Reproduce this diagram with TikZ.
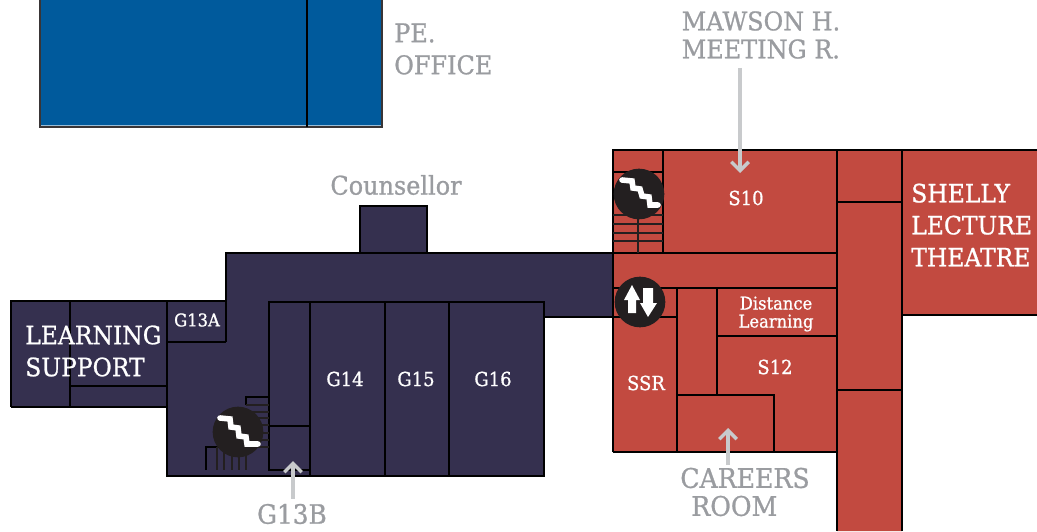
\documentclass[tikz,border=0pt]{standalone}
\usepackage{fontspec}
\usetikzlibrary{arrows.meta}
\setmainfont[FakeStretch=0.93,FakeBold=0.9]{DejaVu Serif}
\definecolor{navy}{HTML}{35304F}
\definecolor{brick}{HTML}{C24A40}
\definecolor{blue}{HTML}{005A9C}
\definecolor{ink}{HTML}{231F20}
\definecolor{greytext}{HTML}{9A9CA0}
\definecolor{arrowgrey}{HTML}{C8CACC}
\tikzset{
  wall/.style={draw=black,line width=1.5pt,line join=miter},
  thin wall/.style={draw=ink,line width=1.2pt},
  faint/.style={draw=ink,line width=1.1pt},
  grey label/.style={text=greytext,align=left,inner sep=0pt,font=\fontsize{19.3}{21}\selectfont},
  white label/.style={text=white,align=left,inner sep=0pt,font=\fontsize{18.9}{24}\selectfont},
  room label/.style={text=white,align=center,inner sep=0pt,font=\fontsize{14.5}{13.5}\selectfont},
  small label/.style={text=white,align=center,inner sep=0pt,font=\fontsize{13.2}{13.5}\selectfont},
  pointer/.style={draw=arrowgrey,line width=2.6pt,-{Straight Barb[length=6.5pt,width=13pt,line width=2.6pt]}},
  disc/.style={circle,fill=ink,minimum size=38pt,inner sep=0pt},
  stair/.style={draw=white,line width=4.2pt,line cap=round,line join=miter},
}
\begin{document}
\begin{tikzpicture}[x=0.75pt,y=-0.75pt]
\useasboundingbox (0,0) rectangle (1037,531);
% blue block
\fill[blue] (40,0) rectangle (382,127);
\draw[draw=blue!40,line width=0.6pt] (41,125.5) -- (381,125.5);
\draw[line width=1.5pt,draw=ink!90] (40,0) -- (40,127) -- (382,127) -- (382,0);
\draw[wall] (307,0) -- (307,127);
% navy block
\fill[navy] (11,301) -- (226,301) -- (226,253) -- (360,253) -- (360,206) -- (427,206) -- (427,253) -- (613,253) -- (613,317) -- (544,317) -- (544,476) -- (167,476) -- (167,407) -- (11,407) -- cycle;
\draw[wall] (11,407) -- (11,301) -- (226,301);
\draw[wall] (226,342) -- (226,253) -- (360,253) -- (360,206) -- (427,206) -- (427,253) -- (613,253);
\draw[wall] (360,253) -- (427,253);
\draw[wall] (544,317) -- (613,317);
\draw[wall] (167,301) -- (167,476) -- (544,476) -- (544,302) -- (269,302) -- (269,470) -- (310,470);
\draw[wall] (70,301) -- (70,407);
\draw[wall] (70,386) -- (167,386);
\draw[wall] (167,342) -- (226,342);
\draw[wall] (11,407) -- (167,407);
\draw[wall] (310,302) -- (310,476);
\draw[wall] (385,302) -- (385,476);
\draw[wall] (449,302) -- (449,476);
\draw[wall] (269,426) -- (310,426);
% navy stairs
\draw[wall] (246,405) -- (246,397) -- (269,397);
\foreach \yy in {405,412,418,425,433,440,447}{\draw[faint] (246,\yy) -- (269,\yy);}
\draw[wall] (206,470) -- (206,447) -- (228,447);
\foreach \xx in {217,224,232,239,246}{\draw[faint] (\xx,447) -- (\xx,470);}
% brick block
\fill[brick] (613,150) -- (1037,150) -- (1037,315) -- (902,315) -- (902,531) -- (837,531) -- (837,452) -- (613,452) -- cycle;
\draw[wall] (613,452) -- (613,150) -- (1037,150);
\draw[wall] (613,452) -- (837,452);
\draw[wall] (837,150) -- (837,531);
\draw[wall] (902,150) -- (902,531);
\draw[wall] (837,202) -- (902,202);
\draw[wall] (902,315) -- (1037,315);
\draw[wall] (837,390) -- (902,390);
\draw[wall] (663,150) -- (663,253);
\draw[wall] (613,253) -- (837,253);
\draw[wall] (613,288) -- (837,288);
\draw[wall] (613,317) -- (677,317);
\draw[wall] (677,288) -- (677,452);
\draw[wall] (717,288) -- (717,395);
\draw[wall] (717,336) -- (837,336);
\draw[wall] (677,395) -- (774,395) -- (774,452);
% brick stairs
\draw[wall] (613,172) -- (663,172);
\foreach \yy in {215,224,233,241}{\draw[thin wall] (613,\yy) -- (663,\yy);}
\draw[thin wall] (638,213) -- (638,253);
% discs
\node[disc] (stairA) at (639,194) {};
\draw[stair] (622,180) -- (632,181) -- (633,188) -- (640,189) -- (642,196) -- (649,197) -- (650,205) -- (658,205);
\node[disc] (lift) at (640,302) {};
\fill[white] (632,285) -- (640,300) -- (636,300) -- (636,313) -- (628,313) -- (628,300) -- (624,300) -- cycle;
\fill[white] (643,288) -- (653,288) -- (653,303) -- (657,303) -- (648,317) -- (640,303) -- (643,303) -- cycle;
\node[disc] (stairB) at (238,432) {};
\draw[stair] (220,418) -- (230,419) -- (231,427) -- (238,428) -- (239,436) -- (246,437) -- (247,444) -- (258,444);
% labels
\node[grey label,anchor=west] (pe) at (394,49) {PE.\\[3pt]OFFICE};
\node[grey label,anchor=center] (mawson) at (761,35) {MAWSON H.\\MEETING R.};
\node[grey label,anchor=center] (counsellor) at (396,185) {Counsellor};
\node[grey label,anchor=center,font=\fontsize{20}{21}\selectfont] (g13b) at (292,514) {G13B};
\node[grey label,align=center,font=\fontsize{20.3}{21}\selectfont] (careers) at (745,492) {CAREERS\\ROOM\hspace*{16pt}};
\node[white label,anchor=west] (ls) at (25,351) {LEARNING\\SUPPORT};
\node[white label,anchor=west] (slt) at (911,225) {SHELLY\\LECTURE\\THEATRE};
\node[room label] (s10) at (746,198) {S10};
\node[small label] (g13a) at (197,320) {G13A};
\node[room label] (g14) at (345,379) {G14};
\node[room label] (g15) at (416,379) {G15};
\node[room label] (g16) at (493,379) {G16};
\node[room label] (ssr) at (646,383) {SSR};
\node[room label] (s12) at (775,367) {S12};
\node[small label] (dl) at (776,314) {Distance\\Learning};
% pointers
\coordinate (pa) at (740,173);
\coordinate (pb) at (728,428);
\coordinate (pc) at (293,461);
\draw[pointer] (mawson.south -| pa) ++(0,9) -- (pa);
\draw[pointer] (careers.north -| pb) ++(0,-3) -- (pb);
\draw[pointer] (g13b.north -| pc) ++(0,-5) -- (pc);
\end{tikzpicture}
\end{document}
